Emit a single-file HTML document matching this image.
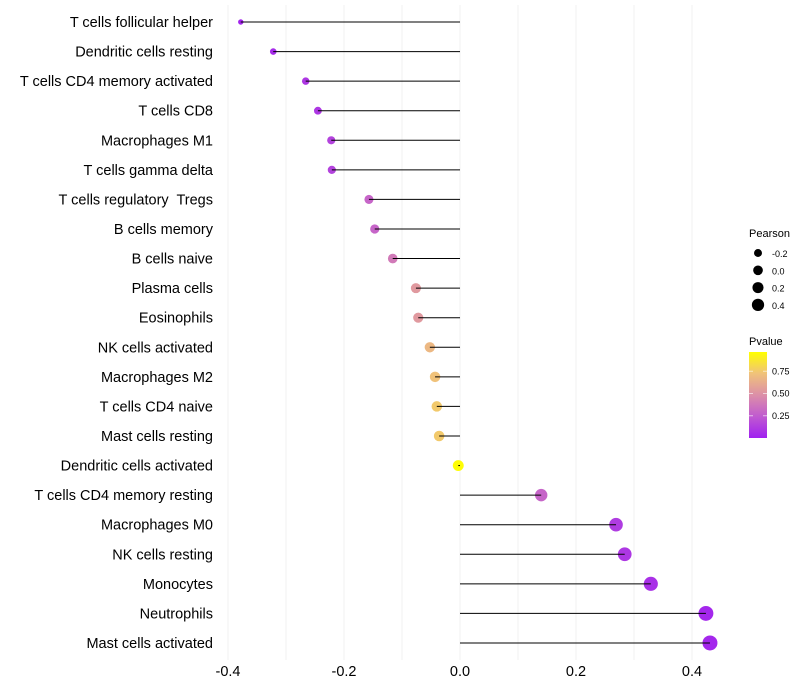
<!DOCTYPE html>
<html><head><meta charset="utf-8"><style>
body{margin:0;background:#fff}
svg{display:block;font-family:"Liberation Sans",sans-serif}
text{white-space:pre}
</style></head><body>
<svg id="chart" width="800" height="700">
<defs><linearGradient id="pg" x1="0" y1="1" x2="0" y2="0">
<stop offset="0" stop-color="#a020f0"/><stop offset="0.25" stop-color="#c05ad0"/>
<stop offset="0.5" stop-color="#dc8fa8"/><stop offset="0.75" stop-color="#f0c27a"/>
<stop offset="1" stop-color="#ffff00"/></linearGradient></defs>
<g id="grid"></g><g id="marks"></g><g id="labels"></g><g id="legend"></g>
</svg>
<script>
const categories=["T cells follicular helper","Dendritic cells resting","T cells CD4 memory activated","T cells CD8","Macrophages M1","T cells gamma delta","T cells regulatory  Tregs","B cells memory","B cells naive","Plasma cells","Eosinophils","NK cells activated","Macrophages M2","T cells CD4 naive","Mast cells resting","Dendritic cells activated","T cells CD4 memory resting","Macrophages M0","NK cells resting","Monocytes","Neutrophils","Mast cells activated"];
const pearson=[-0.378,-0.322,-0.266,-0.245,-0.222,-0.221,-0.157,-0.147,-0.116,-0.076,-0.072,-0.052,-0.043,-0.040,-0.036,-0.003,0.14,0.269,0.284,0.329,0.424,0.431];
const pvalues=[0.02,0.05,0.1,0.1,0.15,0.15,0.3,0.3,0.4,0.55,0.55,0.7,0.75,0.78,0.78,0.99,0.3,0.12,0.1,0.07,0.03,0.03];
const xTicks=[-0.4,-0.2,0.0,0.2,0.4];
const xTickLabels=["-0.4","-0.2","0.0","0.2","0.4"];
const sizeLegend=[-0.2,0.0,0.2,0.4];
const colorTicks=[0.25,0.5,0.75];

const NS="http://www.w3.org/2000/svg";
const x=v=>460+v*580;
const y=i=>22+i*29.57;
const r=p=>Math.sqrt(Math.max(3,30+60*p));
const stops=[[0,[160,32,240]],[0.25,[192,90,208]],[0.5,[220,143,168]],[0.75,[240,194,122]],[1,[255,255,0]]];
function col(p){for(let k=0;k<stops.length-1;k++){const[a,ca]=stops[k],[b,cb]=stops[k+1];if(p<=b){const t=(p-a)/(b-a);return`rgb(${ca.map((c,j)=>Math.round(c+(cb[j]-c)*t)).join(",")})`;}}return"rgb(255,255,0)";}
function mk(tag,attrs,parent,text){const e=document.createElementNS(NS,tag);for(const k in attrs)e.setAttribute(k,attrs[k]);if(text!==undefined)e.textContent=text;parent.appendChild(e);return e;}
const grid=document.getElementById("grid"),marks=document.getElementById("marks"),labels=document.getElementById("labels"),legend=document.getElementById("legend");
for(let v=-0.4;v<=0.41;v+=0.1){const g=mk("line",{x1:x(v),x2:x(v),y1:5,y2:660,stroke:"#f2f2f2","stroke-width":1},grid);

}
xTicks.forEach((v,i)=>{const t=mk("text",{x:x(v),y:676,"text-anchor":"middle","font-size":14.5,fill:"#000"},labels,xTickLabels[i]);

});
categories.forEach((c,i)=>{
const t=mk("text",{x:213,y:y(i)+5,"text-anchor":"end","font-size":14.5,fill:"#000"},labels,c);


const pt=mk("circle",{cx:x(pearson[i]),cy:y(i),r:r(pearson[i]),fill:col(pvalues[i])},marks);


const s=mk("line",{x1:x(0),x2:x(pearson[i]),y1:y(i),y2:y(i),stroke:"#000","stroke-width":1},marks);

});
const lt=mk("text",{x:749,y:237,"font-size":11},legend,"Pearson");


sizeLegend.forEach((v,i)=>{const cy=253+i*17.3;
const c=mk("circle",{cx:758,cy:cy,r:r(v)*0.7+1,fill:"#000"},legend);


const t=mk("text",{x:772,y:cy+4,"font-size":9},legend,v.toFixed(1));

});
const ct=mk("text",{x:749,y:345,"font-size":11},legend,"Pvalue");


const bar=mk("rect",{x:749,y:352,width:18,height:86,fill:"url(#pg)"},legend);


colorTicks.forEach(v=>{const cy=438-v*89;
const l=mk("line",{x1:749,x2:753,y1:cy,y2:cy,stroke:"#fff","stroke-opacity":0.6},legend);


const l2=mk("line",{x1:763,x2:767,y1:cy,y2:cy,stroke:"#fff","stroke-opacity":0.6},legend);


const t=mk("text",{x:772,y:cy+3,"font-size":9},legend,v.toFixed(2));

});
</script>
</body></html>
